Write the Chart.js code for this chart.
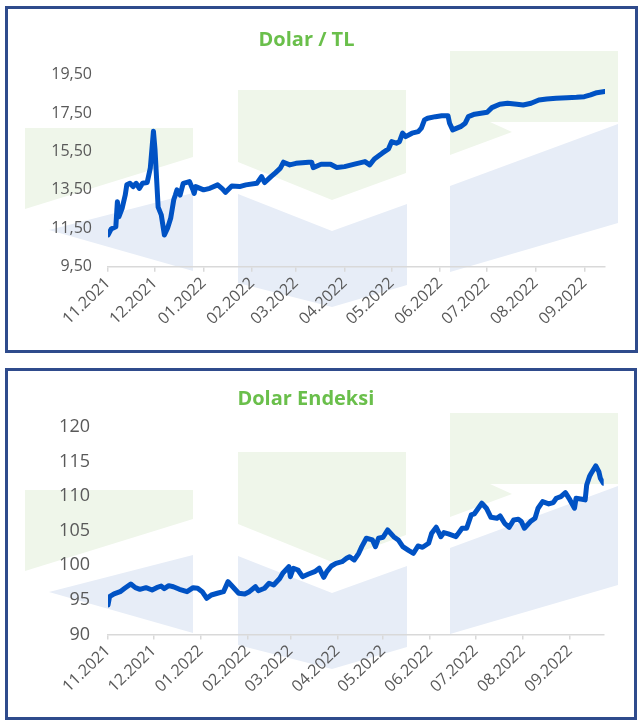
<!DOCTYPE html>
<html lang="tr">
<head>
<meta charset="utf-8">
<title>Dolar / TL - Dolar Endeksi</title>
<script src="https://cdn.jsdelivr.net/npm/chart.js@4.4.0/dist/chart.umd.min.js"></script>
<style>
    html, body { margin: 0; padding: 0; background: #fff; }
    .panel { position: absolute; border: 3px solid #2f4b8c; background: #fff; }
    #p1 { left: 5px; top: 6px; width: 627px; height: 341px; }
    #p2 { left: 5px; top: 368px; width: 626px; height: 346px; }
    .panel canvas { display: block; }
</style>
</head>
<body>
<div class="panel" id="p1"><canvas id="chartTL" width="627" height="341"></canvas></div>
<div class="panel" id="p2"><canvas id="chartDXY" width="626" height="346"></canvas></div>

<script>
// Eksen etiketleri (ay başları, 01.11.2021'den itibaren gün)
const monthLabels = ['11.2021', '12.2021', '01.2022', '02.2022', '03.2022', '04.2022', '05.2022', '06.2022', '07.2022', '08.2022', '09.2022'];
const monthDays = [0, 30, 61, 92, 120, 151, 181, 212, 242, 273, 304];

// Dolar / TL
const tlDays = [0, 2, 5, 6, 7, 9, 11, 12, 14, 16, 18, 20, 22, 25, 27, 29, 30, 32, 34, 36, 38, 40, 42, 43, 44, 46, 48, 52, 54, 55, 56, 61, 65, 70, 73, 75, 79, 84, 88, 95, 98, 100, 104, 107, 110, 112, 116, 120, 128, 130, 131, 136, 142, 146, 151, 158, 164, 167, 170, 175, 179, 181, 184, 186, 188, 190, 194, 198, 200, 202, 204, 209, 213, 217, 218, 220, 225, 228, 230, 234, 238, 242, 245, 250, 255, 261, 265, 270, 275, 280, 286, 293, 299, 304, 308, 312, 317];
const tlValues = [11.15, 11.46, 11.58, 12.88, 12.10, 12.54, 13.23, 13.76, 13.84, 13.67, 13.84, 13.58, 13.84, 13.88, 14.63, 16.55, 15.60, 12.60, 12.20, 11.15, 11.50, 12.02, 13.00, 13.23, 13.50, 13.23, 13.84, 13.93, 13.55, 13.32, 13.67, 13.50, 13.58, 13.76, 13.55, 13.37, 13.70, 13.67, 13.76, 13.84, 14.19, 13.88, 14.19, 14.40, 14.63, 14.94, 14.80, 14.88, 14.94, 14.94, 14.66, 14.83, 14.83, 14.66, 14.71, 14.85, 14.97, 14.80, 15.11, 15.41, 15.63, 16.01, 15.93, 16.01, 16.45, 16.27, 16.45, 16.53, 16.71, 17.14, 17.23, 17.31, 17.36, 17.36, 16.97, 16.62, 16.79, 16.97, 17.31, 17.44, 17.49, 17.54, 17.78, 17.96, 18.01, 17.96, 17.92, 18.01, 18.18, 18.23, 18.27, 18.30, 18.32, 18.35, 18.44, 18.56, 18.62];
const tlTicks = [9.5, 11.5, 13.5, 15.5, 17.5, 19.5];

// Dolar Endeksi
const dxyDays = [0, 1, 4, 8, 11, 15, 18, 21, 25, 29, 32, 35, 37, 40, 43, 47, 52, 56, 59, 62, 65, 68, 72, 76, 79, 81, 86, 90, 93, 97, 99, 103, 106, 109, 113, 115, 119, 120, 122, 125, 128, 132, 136, 139, 142, 144, 147, 150, 154, 157, 159, 162, 165, 167, 170, 174, 176, 178, 181, 184, 188, 191, 194, 198, 201, 204, 207, 211, 213, 216, 219, 221, 224, 229, 233, 236, 239, 241, 246, 249, 252, 256, 258, 261, 264, 267, 270, 272, 274, 278, 281, 283, 286, 290, 293, 295, 298, 301, 304, 307, 308, 312, 314, 315, 317, 318, 321, 323, 324, 326];
const dxyValues = [94.26, 95.46, 95.86, 96.19, 96.68, 97.30, 96.77, 96.53, 96.77, 96.43, 96.77, 97.01, 96.62, 97.06, 96.91, 96.53, 96.19, 96.77, 96.68, 96.19, 95.23, 95.71, 95.96, 96.19, 97.64, 97.16, 95.96, 95.86, 96.19, 96.91, 96.33, 96.68, 97.41, 97.16, 98.10, 98.85, 99.81, 98.36, 99.58, 99.33, 98.36, 98.75, 99.09, 99.58, 98.27, 99.09, 99.91, 100.30, 100.54, 101.03, 101.26, 100.78, 101.75, 102.71, 103.93, 103.68, 102.71, 103.93, 104.07, 105.13, 104.16, 103.68, 102.71, 102.13, 101.75, 102.81, 102.62, 103.20, 104.65, 105.52, 104.16, 104.74, 104.55, 104.16, 105.38, 105.38, 107.30, 107.45, 109.00, 108.28, 106.97, 106.83, 107.16, 106.10, 105.52, 106.58, 106.68, 106.34, 105.38, 106.34, 106.83, 108.28, 109.23, 108.90, 109.09, 109.72, 109.96, 110.54, 109.48, 108.28, 109.72, 109.58, 109.48, 111.65, 112.96, 113.35, 114.41, 113.58, 112.62, 111.90];
const dxyTicks = [90, 95, 100, 105, 110, 115, 120];

// Logo filigranı (arka plan)
const filigran = [
    { cor: '#eff6ea', pts: [[17, 119], [185, 119], [185, 148], [17, 200]] },
    { cor: '#e7edf7', pts: [[41, 221], [185, 184], [185, 262]] },
    { cor: '#eff6ea', pts: [[230, 81], [398, 81], [398, 164], [324, 191], [230, 153]] },
    { cor: '#e7edf7', pts: [[230, 185], [324, 222], [399, 195], [399, 276], [324, 298], [230, 274]] },
    { cor: '#eff6ea', pts: [[442, 42], [610, 42], [610, 113], [482, 113], [504, 123], [442, 146]] },
    { cor: '#e7edf7', pts: [[442, 177], [610, 115], [610, 214], [442, 263]] }
];

const marcaDagua = {
    id: 'marcaDagua',
    beforeDraw(chart) {
        const ctx = chart.ctx;
        ctx.save();
        filigran.forEach(f => {
            ctx.fillStyle = f.cor;
            ctx.beginPath();
            f.pts.forEach(([x, y], i) => i ? ctx.lineTo(x, y) : ctx.moveTo(x, y));
            ctx.closePath();
            ctx.fill();
        });
        ctx.restore();
    }
};

function montarGrafico(id, titulo, dias, valores, yTicks, cfg) {
    const ctx = document.getElementById(id).getContext('2d');
    return new Chart(ctx, {
        type: 'line',
        data: {
            datasets: [{
                data: dias.map((d, i) => ({ x: d, y: valores[i] })),
                borderColor: '#0052c4',
                borderWidth: 5,
                pointRadius: 0,
                tension: 0,
                borderJoinStyle: 'round',
                borderCapStyle: 'round',
                fill: false
            }]
        },
        options: {
            responsive: false,
            animation: false,
            devicePixelRatio: 1,
            layout: { padding: { left: 0, right: cfg.padRight, top: 0, bottom: 0 } },
            plugins: {
                legend: { display: false },
                tooltip: { enabled: false },
                title: {
                    display: true,
                    text: titulo,
                    color: '#6abf4b',
                    font: { family: 'Open Sans', size: 20, weight: 'bold' },
                    padding: { top: cfg.titleTop, bottom: cfg.titleBottom }
                }
            },
            scales: {
                x: {
                    type: 'linear',
                    min: 0,
                    max: cfg.xMax,
                    afterBuildTicks: s => { s.ticks = monthDays.map(v => ({ value: v })); },
                    afterFit: s => { s.height = cfg.xHeight; },
                    grid: { display: true, drawOnChartArea: false, drawTicks: true, tickLength: 5, color: '#d9d9d9', lineWidth: 1.5 },
                    border: { display: true, color: '#d9d9d9', width: 1.5 },
                    ticks: {
                        autoSkip: false,
                        minRotation: 44,
                        maxRotation: 44,
                        padding: 2,
                        color: '#595959',
                        font: { family: 'Open Sans', size: 16 },
                        callback: (v, i) => monthLabels[i]
                    }
                },
                y: {
                    min: yTicks[0],
                    max: yTicks[yTicks.length - 1],
                    afterBuildTicks: s => { s.ticks = yTicks.map(v => ({ value: v })); },
                    afterFit: s => { s.width = 100; },
                    grid: { display: false, drawTicks: false },
                    border: { display: false },
                    ticks: {
                        padding: cfg.yPad,
                        color: '#595959',
                        font: { family: 'Open Sans', size: cfg.ySize },
                        callback: cfg.yFormat
                    }
                }
            }
        },
        plugins: [marcaDagua]
    });
}

montarGrafico('chartTL', 'Dolar / TL', tlDays, tlValues, tlTicks, {
    padRight: 30, titleTop: 19, titleBottom: 22.6, xMax: 317.2, xHeight: 83.3,
    yPad: 16, ySize: 16, yFormat: v => v.toFixed(2).replace('.', ',')
});

montarGrafico('chartDXY', 'Dolar Endeksi', dxyDays, dxyValues, dxyTicks, {
    padRight: 30.3, titleTop: 16.7, titleBottom: 15.6, xMax: 326.2, xHeight: 82.6,
    yPad: 18, ySize: 18, yFormat: v => String(v)
});
</script>
</body>
</html>
